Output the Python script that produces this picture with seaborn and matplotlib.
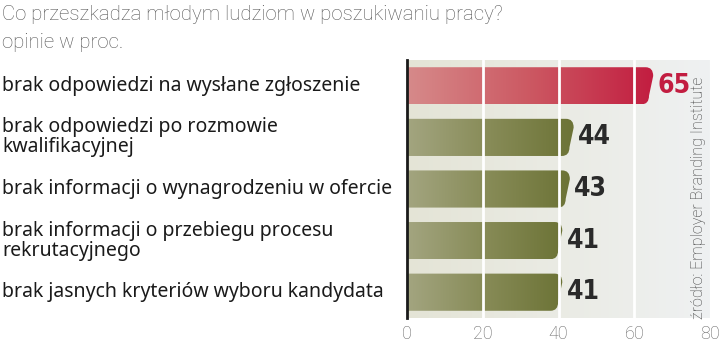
import numpy as np
import pandas as pd
import matplotlib
matplotlib.use("Agg")
import matplotlib.pyplot as plt
import seaborn as sns
from matplotlib.path import Path
from matplotlib.patches import PathPatch
from matplotlib.colors import LinearSegmentedColormap
from matplotlib import font_manager as fm

# ---- data ----
categories = [
    "brak odpowiedzi na wysłane zgłoszenie",
    "brak odpowiedzi po rozmowie\nkwalifikacyjnej",
    "brak informacji o wynagrodzeniu w ofercie",
    "brak informacji o przebiegu procesu\nrekrutacyjnego",
    "brak jasnych kryteriów wyboru kandydata",
]
values = [65, 44, 43, 41, 41]
x_ticks = [0, 20, 40, 60, 80]
title_line1 = "Co przeszkadza młodym ludziom w poszukiwaniu pracy?"
title_line2 = "opinie w proc."
source = "źródło: Employer Branding Institute"

df = pd.DataFrame({"cat": categories, "val": values})

sns.set_theme(style="white")
plt.rcParams["font.family"] = ["Noto Sans", "DejaVu Sans"]

# condensed bold font for the value labels
cond_files = [f.fname for f in fm.fontManager.ttflist
              if ("Narrow" in f.name or "Condensed" in f.fname) and f.weight in (700, "bold")]
if cond_files:
    num_font = fm.FontProperties(fname=cond_files[0], size=19)
else:
    num_font = fm.FontProperties(family="DejaVu Sans", weight="bold",
                                 stretch="condensed", size=17)

fig = plt.figure(figsize=(7.2, 3.44), dpi=100)
ax = fig.add_axes([407 / 720, 1 - 318 / 344, (710 - 407) / 720, (318 - 60) / 344])

sns.barplot(data=df, x="val", y="cat", orient="h", ax=ax, width=0.72,
            color="#888888", saturation=1)

xlim = (0, 80)
ylim = (4.5, -0.5)

# background panel gradient
bg = LinearSegmentedColormap.from_list("bg", ["#e4e4d6", "#eaebe4", "#eff1f2"])
ax.imshow(np.linspace(0, 1, 256).reshape(1, -1), cmap=bg, aspect="auto",
          extent=(0, 80, 4.5, -0.5), zorder=0)

red_cmap = LinearSegmentedColormap.from_list("red", ["#d68a8a", "#cc5862", "#c21d40"])
green_cmap = LinearSegmentedColormap.from_list("grn", ["#a3a580", "#878b57", "#6c7336"])

for i, p in enumerate(list(ax.patches)):
    x0 = p.get_x()
    w = p.get_width()
    yb = p.get_y()
    h = p.get_height()
    top, bot = yb, yb + h
    xe = x0 + w
    s = 1.1      # slant in data units
    rx = 2.0
    ry = 0.17
    verts = [
        (x0, top),
        (xe - rx, top),
        (xe, top), (xe, top + ry),
        (xe - s, bot - ry),
        (xe - s, bot), (xe - s - rx, bot),
        (x0, bot),
        (x0, top),
    ]
    codes = [Path.MOVETO, Path.LINETO, Path.CURVE3, Path.CURVE3, Path.LINETO,
             Path.CURVE3, Path.CURVE3, Path.LINETO, Path.CLOSEPOLY]
    shape = PathPatch(Path(verts, codes), facecolor="none", edgecolor="none",
                      transform=ax.transData)
    ax.add_patch(shape)
    cmap = red_cmap if i == 0 else green_cmap
    im = ax.imshow(np.linspace(0, 1, 256).reshape(1, -1), cmap=cmap, aspect="auto",
                   extent=(x0, xe, bot, top), zorder=2)
    im.set_clip_path(shape)
    p.set_alpha(0)

    color = "#c21d40" if i == 0 else "#2a2a2a"
    ax.text(values[i] + 1.1, yb + h / 2, str(values[i]), ha="left", va="center",
            fontproperties=num_font, color=color, zorder=5)

# white gridlines
for gx in x_ticks[1:-1]:
    ax.axvline(gx, color="white", lw=2, zorder=3)

ax.set_xlim(*xlim)
ax.set_ylim(*ylim)
ax.set_xticks(x_ticks)
ax.set_xticklabels([str(t) for t in x_ticks], fontsize=13, color="#666666",
                   family=["Roboto", "DejaVu Sans"], fontweight="light")
ax.tick_params(axis="x", length=0, pad=5)
ax.set_yticks([])
ax.set_xlabel("")
ax.set_ylabel("")
for sp in ["top", "right", "bottom"]:
    ax.spines[sp].set_visible(False)
ax.spines["left"].set_color("#1a1a1a")
ax.spines["left"].set_linewidth(2)
ax.spines["left"].set_zorder(6)

# category labels
for i, cat in enumerate(categories):
    ypix = ax.transData.transform((0, i))[1]
    yfig = ypix / fig.bbox.height
    fig.text(2 / 720, yfig, cat, ha="left", va="center", fontsize=14,
             color="#1a1a1a", linespacing=1.0)

# title
fig.text(2 / 720, 1 - 15 / 344, title_line1, ha="left", va="center", fontsize=14.7,
         color="#555555", family=["Roboto", "DejaVu Sans"], fontweight="light")
fig.text(2 / 720, 1 - 42 / 344, title_line2, ha="left", va="center", fontsize=14.7,
         color="#555555", family=["Roboto", "DejaVu Sans"], fontweight="light")

# source
fig.text(698 / 720, 1 - 319 / 344, source, rotation=90, ha="center", va="bottom",
         fontsize=11.5, color="#3a3a3a", family=["Roboto", "DejaVu Sans"],
         fontweight="light")

fig.savefig("out.png", dpi=100)
